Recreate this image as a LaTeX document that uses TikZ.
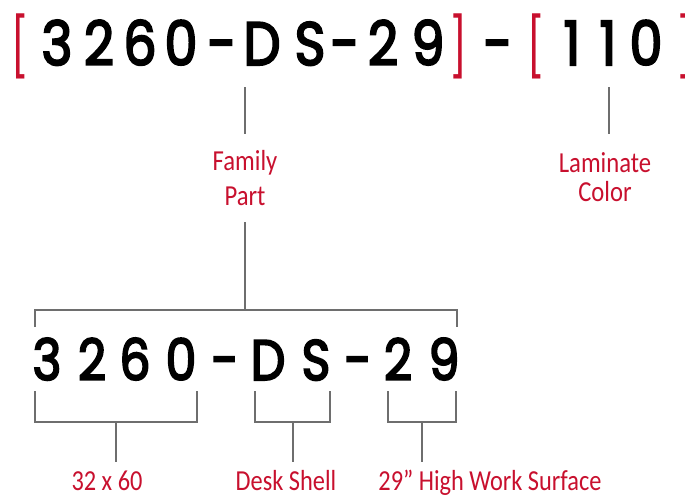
\documentclass[tikz,border=0pt]{standalone}
\usepackage{fontspec}
\setmainfont{Carlito}
\newfontfamily\codefont{Poppins}[FakeBold=3.5]
\newfontfamily\brfont{Liberation Sans}
\definecolor{pred}{HTML}{C8102E}
\definecolor{lgray}{HTML}{6E6E6E}
\newcommand{\cch}[1]{\scalebox{0.86}[1]{#1}}
\newcommand{\nlb}[1]{\scalebox{0.85}[1]{#1}}
\begin{document}
\begin{tikzpicture}[x=1pt,y=-1pt,
  bigchar/.style={anchor=base, inner sep=0pt, font=\codefont\fontsize{61}{61}\selectfont},
  smallchar/.style={anchor=base, inner sep=0pt, font=\codefont\fontsize{57}{57}\selectfont},
  brk/.style={anchor=base, inner sep=0pt, text=pred, font=\brfont\fontsize{70}{70}\selectfont},
  lbl/.style={anchor=base, inner sep=0pt, text=pred, font=\fontsize{29}{30}\selectfont},
  conn/.style={draw=lgray, line width=1.6pt}]
\useasboundingbox (0,0) rectangle (685,498);
% top code
\node[brk] (lb1) at (19,64) {\scalebox{0.6}[1]{[}};
\foreach \c/\x [count=\i] in {3/57, 2/99, 6/140, 0/181, -/222, D/262, S/310, -/345, 2/383, 9/428}
  \node[bigchar] (t\i) at (\x,65) {\cch{\c}};
\node[brk] (rb1) at (459,64) {\scalebox{0.6}[1]{]}};
\node[bigchar] (tdash) at (498,65) {\cch{-}};
\node[brk] (lb2) at (535,64) {\scalebox{0.6}[1]{[}};
\foreach \c/\x [count=\i] in {1/572, 1/608, 0/646}
  \node[bigchar] (c\i) at (\x,65) {\cch{\c}};
\node[brk] (rb2) at (686,64) {\scalebox{0.6}[1]{]}};
% labels
\node[lbl] (fam1) at (245,170) {\nlb{Family}};
\node[lbl] (fam2) at (245,205) {\nlb{Part}};
\node[lbl] (lam1) at (605,172) {\nlb{Laminate}};
\node[lbl] (lam2) at (605,201) {\nlb{Color}};
% connectors top
\coordinate (dsA) at (245,87); \coordinate (dsB) at (245,134);
\coordinate (lmA) at (609,87); \coordinate (lmB) at (609,134);
\draw[conn] (dsA) -- (dsB);
\draw[conn] (lmA) -- (lmB);
\coordinate (pA) at (245,222); \coordinate (pB) at (245,310);
\draw[conn] (pA) -- (pB);
\coordinate (hL) at (35,327); \coordinate (hR) at (457,327);
\draw[conn] (hL) |- (pB) -| (hR);
% bottom code
\foreach \c/\x [count=\i] in {3/47, 2/92, 6/135, 0/181, -/225, D/268, S/316, -/358, 2/398, 9/444}
  \node[smallchar] (b\i) at (\x,380) {\cch{\c}};
% bottom brackets
\coordinate (k1a) at (35,391); \coordinate (k1b) at (197,391); \coordinate (k1m) at (116,422); \coordinate (k1s) at (116,462);
\coordinate (k2a) at (255,391); \coordinate (k2b) at (330,391); \coordinate (k2m) at (293,422); \coordinate (k2s) at (293,462);
\coordinate (k3a) at (388,391); \coordinate (k3b) at (456,391); \coordinate (k3m) at (422,422); \coordinate (k3s) at (422,462);
\draw[conn] (k1a) |- (k1m) -| (k1b); \draw[conn] (k1m) -- (k1s);
\draw[conn] (k2a) |- (k2m) -| (k2b); \draw[conn] (k2m) -- (k2s);
\draw[conn] (k3a) |- (k3m) -| (k3b); \draw[conn] (k3m) -- (k3s);
\node[lbl] (l1) at (107,490) {\scalebox{0.84}[1]{32 x 60}};
\node[lbl] (l2) at (286,490) {\scalebox{0.84}[1]{Desk Shell}};
\node[lbl] (l3) at (490,490) {\scalebox{0.84}[1]{29” High Work Surface}};
\end{tikzpicture}
\end{document}
